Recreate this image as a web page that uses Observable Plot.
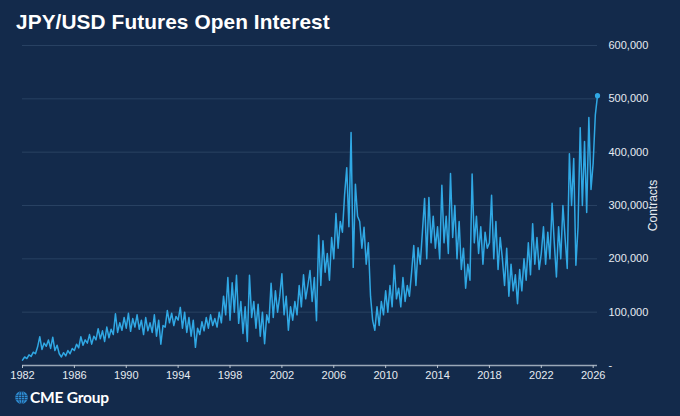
<!DOCTYPE html>
<html>
<head>
<meta charset="utf-8">
<script src="https://cdn.jsdelivr.net/npm/d3@7"></script>
<script src="https://cdn.jsdelivr.net/npm/@observablehq/plot@0.6"></script>
<style>
  html, body { margin: 0; padding: 0; background: #132a4b; }
  #wrap { position: relative; width: 680px; height: 416px; background: #132a4b; overflow: hidden; font-family: "Liberation Sans", Arial, sans-serif; }
  #title { position: absolute; left: 16px; top: 10px; color: #ffffff; font-size: 20.8px; font-weight: bold; letter-spacing: 0.1px; }
  #chart { position: absolute; left: 0; top: 0; }
  #logo { position: absolute; left: 15px; top: 388px; display: flex; align-items: center; color: #ffffff; font-family: Lato, "Open Sans", sans-serif; font-weight: bold; font-size: 15.5px; letter-spacing: -0.2px; }
  #logo svg { margin-right: 2px; }
</style>
</head>
<body>
<div id="wrap">
  <div id="chart"></div>
  <div id="title">JPY/USD Futures Open Interest</div>
  <div id="logo">
    <svg width="13" height="13" viewBox="0 0 12 12">
      <circle cx="6" cy="6" r="5.8" fill="#2f8fd6"/>
      <g stroke="#132a4b" stroke-width="0.6" fill="none">
        <line x1="0.5" y1="4" x2="11.5" y2="4"/>
        <line x1="0.2" y1="6" x2="11.8" y2="6"/>
        <line x1="0.5" y1="8" x2="11.5" y2="8"/>
        <line x1="6" y1="0.2" x2="6" y2="11.8"/>
        <ellipse cx="6" cy="6" rx="2.8" ry="5.8"/>
      </g>
    </svg>
    <span>CME Group</span>
  </div>
</div>
<script>
// Open interest (thousands of contracts), six readings per year starting Jan 1982
const firstYear = 1982;
const readingsPerYear = 6;
const openInterestK = [
  10, 16, 13, 20, 17, 25,      // 1982
  22, 35, 54, 30, 42, 36,      // 1983
  48, 32, 53, 28, 38, 22,      // 1984
  16, 24, 18, 28, 22, 32,      // 1985
  28, 40, 33, 54, 38, 48,      // 1986
  42, 58, 40, 55, 48, 69,      // 1987
  50, 65, 45, 72, 52, 68,      // 1988
  58, 97, 62, 80, 66, 90,      // 1989
  70, 98, 64, 88, 72, 95,      // 1990
  68, 85, 58, 90, 65, 80,      // 1991
  62, 95, 55, 85, 40, 75,      // 1992
  72, 103, 80, 98, 75, 92,     // 1993
  85, 109, 70, 100, 62, 90,    // 1994
  55, 85, 34, 70, 58, 82,      // 1995
  65, 90, 70, 95, 75, 88,      // 1996
  72, 100, 80, 130, 95, 165,   // 1997
  85, 155, 100, 169, 79, 120,  // 1998
  60, 110, 45, 169, 90, 120,   // 1999
  70, 115, 55, 100, 41, 95,    // 2000
  80, 154, 90, 140, 100, 130,  // 2001
  172, 95, 130, 66, 110, 85,   // 2002
  120, 95, 150, 110, 170, 125, // 2003
  150, 178, 120, 165, 84, 244, // 2004
  150, 234, 175, 210, 160, 240,// 2005
  200, 285, 220, 270, 250, 320,// 2006
  371, 260, 437, 184, 340, 280,// 2007
  270, 220, 259, 190, 230, 130,// 2008
  84, 66, 110, 75, 120, 95,    // 2009
  140, 100, 150, 110, 188, 125,// 2010
  145, 110, 165, 120, 150, 130,// 2011
  175, 225, 150, 221, 190, 250,// 2012
  313, 200, 315, 230, 280, 220,// 2013
  260, 200, 338, 230, 280, 210,// 2014
  360, 240, 300, 200, 270, 180,// 2015
  220, 145, 190, 160, 359, 230,// 2016
  280, 210, 260, 190, 250, 220,// 2017
  230, 319, 200, 270, 180, 240,// 2018
  200, 150, 220, 130, 190, 140,// 2019
  170, 116, 180, 140, 200, 160,// 2020
  230, 170, 266, 190, 240, 180,// 2021
  210, 260, 190, 250, 200, 304,// 2022
  230, 166, 260, 200, 300, 240,// 2023
  182, 397, 300, 388, 188, 260,// 2024
  446, 300, 420, 287, 465, 330,// 2025
  380, 470, 506                // 2026
];
const xTicks = [1982, 1986, 1990, 1994, 1998, 2002, 2006, 2010, 2014, 2018, 2022, 2026];
const yTicks = [0, 100000, 200000, 300000, 400000, 500000, 600000];
const yLabel = "Contracts";

const data = openInterestK.map((v, i) => ({
  year: firstYear + i / readingsPerYear,
  value: v * 1000
}));
const last = data[data.length - 1];

const chart = Plot.plot({
  width: 680,
  height: 416,
  marginTop: 45,
  marginBottom: 51,
  marginLeft: 22,
  marginRight: 83,
  style: { background: "transparent", color: "#dfe6ef", fontFamily: "'Liberation Sans', Arial, sans-serif", fontSize: "11px" },
  x: { domain: [1982, last.year], ticks: xTicks, tickFormat: d => String(d) },
  y: { domain: [0, 600000], ticks: yTicks },
  marks: [
    Plot.gridY(yTicks.filter(d => d > 0), { stroke: "#3a5475", strokeOpacity: 0.7, strokeWidth: 0.8 }),
    Plot.ruleY([0], { stroke: "#9aa8b8", strokeWidth: 1.5 }),
    Plot.axisX({ ticks: xTicks, tickFormat: d => String(d), tickSize: 3, tickPadding: 3, stroke: "#b8c2ce", fill: "#e6ebf1", label: null, fontSize: 11 }),
    Plot.axisY({ anchor: "right", ticks: yTicks, tickSize: 0, tickPadding: 11,
      tickFormat: d => d === 0 ? "-" : d3.format(",")(d),
      fill: "#e6ebf1", fontSize: 11, label: null }),
    Plot.text([yLabel], { frameAnchor: "right", textAnchor: "middle", lineAnchor: "middle", dx: 56, rotate: -90, fill: "#e6ebf1", fontSize: 12 }),
    Plot.line(data, { x: "year", y: "value", stroke: "#30a8e4", strokeWidth: 1.5, strokeLinejoin: "round" }),
    Plot.dot([last], { x: "year", y: "value", r: 2.6, fill: "#30a8e4" })
  ]
});
document.getElementById("chart").appendChild(chart);
</script>
</body>
</html>
